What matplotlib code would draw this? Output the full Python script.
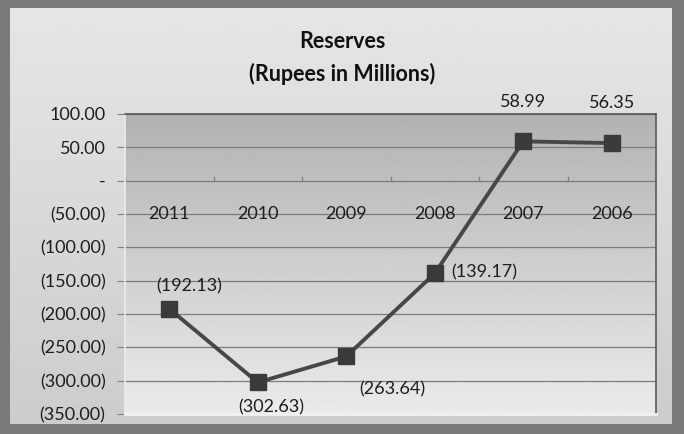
import numpy as np
import matplotlib.pyplot as plt

years = ["2011", "2010", "2009", "2008", "2007", "2006"]
reserves = [-192.13, -302.63, -263.64, -139.17, 58.99, 56.35]
yticks = [100, 50, 0, -50, -100, -150, -200, -250, -300, -350]


def fmt(v):
    if v == 0:
        return "-"
    if v < 0:
        return f"({abs(v):,.2f})"
    return f"{v:,.2f}"


plt.rcParams['font.family'] = ['Lato', 'DejaVu Sans']

fig = plt.figure(figsize=(6.84, 4.34), dpi=100)
fig.patch.set_facecolor("#7a7a7a")

# chart area background (soft vertical gradient)
bg = fig.add_axes([10 / 684, 10 / 434, 662 / 684, 416 / 434])
grad = np.linspace(0.90, 0.80, 256).reshape(-1, 1)
bg.imshow(grad, aspect="auto", cmap="gray", vmin=0, vmax=1, extent=[0, 1, 0, 1])
bg.set_xlim(0, 1)
bg.set_ylim(0, 1)
bg.axis("off")

ax = fig.add_axes([125 / 684, 1 - 414 / 434, 531 / 684, 300 / 434])
ax.set_zorder(2)
inner = np.linspace(0.70, 0.92, 256).reshape(-1, 1)
ax.imshow(inner, aspect="auto", cmap="gray", vmin=0, vmax=1,
          extent=[-0.5, 5.5, -350, 100], zorder=0)

x = np.arange(len(years))
ax.set_xlim(-0.5, 5.5)
ax.set_ylim(-350, 100)
ax.set_yticks(yticks)
ax.set_yticklabels([fmt(v) for v in yticks], fontsize=13, color="#1e1e1e")
ax.tick_params(axis="y", length=6, color="#808080", pad=8)
ax.set_xticks([])
for y in yticks:
    ax.axhline(y, color="#7c7c7c", lw=0.9, zorder=1)

# category axis at zero
for b in np.arange(-0.5, 6.0, 1.0):
    ax.plot([b, b], [0, 6], color="#7c7c7c", lw=0.9, zorder=1)
for xi, yr in zip(x, years):
    ax.text(xi, -50, yr, ha="center", va="center", fontsize=13, color="#1e1e1e", zorder=3)

for s in ax.spines.values():
    s.set_color("#5a5a5a")
    s.set_linewidth(1.2)
ax.spines["left"].set_color("#ececec")
ax.spines["bottom"].set_color("#f2f2f2")
ax.spines["bottom"].set_linewidth(2)

ax.plot(x, reserves, color="#474747", lw=2.8, marker="s", ms=11.5,
        markerfacecolor="#3a3a3a", markeredgecolor="#3a3a3a", zorder=4)

# label offsets in points (dx, dy)
offsets = [(14, 16), (10, -18), (33, -24), (36, 1), (0, 28), (0, 29)]
for xi, v, (dx, dy) in zip(x, reserves, offsets):
    ax.annotate(fmt(v), (xi, v), xytext=(dx, dy), textcoords="offset points",
                ha="center", va="center", fontsize=13, color="#1e1e1e", zorder=5,
                annotation_clip=False)

fig.text(0.5, 1 - 42 / 434, "Reserves", ha="center", va="center",
         fontsize=15.5, fontweight="bold", color="#111111")
fig.text(0.5, 1 - 74 / 434, "(Rupees in Millions)", ha="center", va="center",
         fontsize=15.5, fontweight="bold", color="#111111")

fig.savefig("out.png", dpi=100, facecolor=fig.get_facecolor())
